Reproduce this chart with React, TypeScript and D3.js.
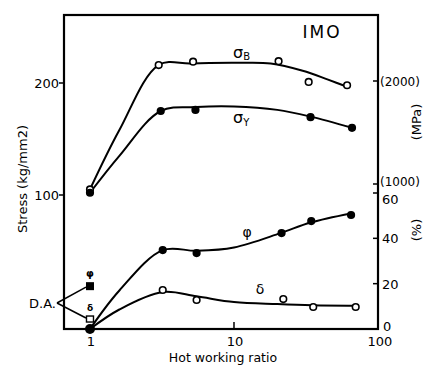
import React from "react";
import * as d3 from "d3";

const W = 425, H = 365;
const plot = { left: 64, right: 378, top: 15, bottom: 329 };

// measured points: hot working ratio -> value
const sigmaBRatio = [1, 3.0, 5.2, 20.4, 33, 61];
const sigmaBValues = [105, 216, 219, 219.5, 201, 198];
const sigmaYRatio = [1, 3.1, 5.4, 34, 66];
const sigmaYValues = [102, 175, 176, 169.5, 160];
const phiRatio = [1, 3.2, 5.5, 21.4, 34.4, 65];
const phiValues = [0, 34.8, 33.5, 42.3, 47.6, 50.3];
const deltaRatio = [3.2, 5.5, 22, 35.5, 70];
const deltaValues = [17.2, 12.8, 13.2, 9.7, 9.7];

// fitted curves as drawn in the figure
const sigmaBCurveRatio = [1, 1.6, 3, 5, 10, 18, 30, 45, 63];
const sigmaBCurveValues = [105, 158, 216, 217.5, 218, 217.5, 211, 203, 196];
const sigmaYCurveRatio = [1, 1.6, 3.1, 5.5, 10, 20, 34, 66];
const sigmaYCurveValues = [102, 135, 175, 178.5, 179, 176, 170, 160];
const phiCurveRatio = [1, 1.6, 3.2, 5.5, 10, 21, 34, 65];
const phiCurveValues = [0, 17, 34.8, 34.5, 36, 42.3, 47, 51];
const deltaCurveRatio = [1, 1.6, 3.2, 5.5, 10, 20, 35, 70];
const deltaCurveValues = [0, 8.6, 16.3, 14.4, 11.9, 11.0, 10.5, 10.3];

// D.A. (as received) values at ratio 1
const daPhi = 18.9;
const daDelta = 4.4;

const xTicks = [1, 10, 100];
const stressTicks = [100, 200];
const mpaTicks = [1000, 2000];
const pctTicks = [0, 20, 40, 60];

const font = "'DejaVu Sans', sans-serif";

export default function App() {
  const x = d3.scaleLog().domain([0.66, 100]).range([plot.left, plot.right]);
  const yS = d3.scaleLinear().domain([100, 200]).range([195, 83]);
  const yM = d3.scaleLinear().domain([1000, 2000]).range([184, 81]);
  const yP = d3.scaleLinear().domain([0, 60]).range([plot.bottom, 193]);

  const line = (rs: number[], vs: number[], y: d3.ScaleLinear<number, number>) =>
    d3.line<number>()
      .x((_, i) => x(rs[i]))
      .y((v) => y(v))
      .curve(d3.curveCatmullRom.alpha(0.5))(vs) || "";

  const dots = (rs: number[], vs: number[], y: any, filled: boolean, key: string, r = 3.3) =>
    vs.map((v, i) => (
      <circle key={key + i} cx={x(rs[i])} cy={y(v)} r={r}
        fill={filled ? "#000" : "#fff"} stroke="#000" strokeWidth={1.6} />
    ));

  const daX = x(1);
  const vertex = { x: 57, y: 303 };

  return (
    <svg width={W} height={H} style={{ position: "absolute", left: 0, top: 0, background: "#fff" }}
      fontFamily={font}>
      <rect x={plot.left} y={plot.top} width={plot.right - plot.left} height={plot.bottom - plot.top}
        fill="none" stroke="#000" strokeWidth={2.2} />

      {/* curves */}
      <g fill="none" stroke="#000" strokeWidth={2}>
        <path d={line(sigmaBCurveRatio, sigmaBCurveValues, yS)} />
        <path d={line(sigmaYCurveRatio, sigmaYCurveValues, yS)} />
        <path d={line(phiCurveRatio, phiCurveValues, yP)} />
        <path d={line(deltaCurveRatio, deltaCurveValues, yP)} />
      </g>

      {dots(sigmaBRatio, sigmaBValues, yS, false, "sb")}
      {dots(sigmaYRatio, sigmaYValues, yS, true, "sy")}
      {dots(phiRatio.slice(1), phiValues.slice(1), yP, true, "ph")}
      {dots(deltaRatio, deltaValues, yP, false, "de")}
      <circle cx={x(1)} cy={yP(0)} r={5} fill="#000" />

      {/* D.A. markers */}
      <rect x={daX - 4} y={yP(daPhi) - 4} width={8} height={8} fill="#000" />
      <rect x={daX - 3.5} y={yP(daDelta) - 3} width={7} height={6} fill="#fff" stroke="#000" strokeWidth={1.4} />
      <text x={daX} y={yP(daPhi) - 9} fontSize={10} textAnchor="middle" fontWeight="bold">φ</text>
      <text x={daX} y={yP(daDelta) - 8} fontSize={9} textAnchor="middle" fontWeight="bold">δ</text>
      <g stroke="#000" strokeWidth={1.5} fill="none">
        <line x1={vertex.x} y1={vertex.y} x2={daX - 4} y2={yP(daPhi) + 1} />
        <line x1={vertex.x} y1={vertex.y} x2={daX - 4} y2={yP(daDelta) - 1} />
      </g>
      <text x={vertex.x - 1} y={vertex.y + 5} fontSize={13} textAnchor="end">D.A.</text>

      {/* x axis */}
      {xTicks.map((t) => (
        <g key={"x" + t}>
          {t === 10 && <line x1={x(t)} x2={x(t)} y1={plot.bottom} y2={plot.bottom - 7} stroke="#000" strokeWidth={1.5} />}
          <text x={x(t) + (t === 100 ? 2 : 1)} y={346} fontSize={13} textAnchor="middle">{t}</text>
        </g>
      ))}
      <text x={223} y={362} fontSize={12.5} textAnchor="middle">Hot working ratio</text>

      {/* left axis */}
      {stressTicks.map((t) => (
        <g key={"s" + t}>
          <line x1={plot.left - 5} x2={plot.left} y1={yS(t)} y2={yS(t)} stroke="#000" strokeWidth={1.5} />
          <text x={plot.left - 5} y={yS(t) + 5} fontSize={13} textAnchor="end">{t}</text>
        </g>
      ))}
      <text transform={`translate(27,179) rotate(-90)`} fontSize={13} textAnchor="middle">Stress (kg/mm2)</text>

      {/* right axis */}
      {mpaTicks.map((t) => (
        <g key={"m" + t}>
          <line x1={plot.right - 5} x2={plot.right} y1={yM(t)} y2={yM(t)} stroke="#000" strokeWidth={1.5} />
          <text x={plot.right + 2} y={yM(t) + (t === 1000 ? 2 : 5)} fontSize={12} textAnchor="start">({t})</text>
        </g>
      ))}
      {pctTicks.map((t) => (
        <g key={"p" + t}>
          {t > 0 && <line x1={plot.right - 5} x2={plot.right} y1={yP(t)} y2={yP(t)} stroke="#000" strokeWidth={1.5} />}
          <text x={plot.right + (t === 0 ? 5 : 4)} y={yP(t) + (t === 60 ? 11 : t === 0 ? 2 : 5)} fontSize={13} textAnchor="start">{t}</text>
        </g>
      ))}
      <text transform={`translate(421,122) rotate(-90)`} fontSize={13} textAnchor="middle">(MPa)</text>
      <text transform={`translate(421,230) rotate(-90)`} fontSize={13} textAnchor="middle">(%)</text>

      {/* labels */}
      <text x={322} y={38} fontSize={17} textAnchor="middle" letterSpacing={2}>IMO</text>
      <text x={233} y={58} fontSize={16}>σ<tspan fontSize={10} dy={2}>B</tspan></text>
      <text x={233} y={123} fontSize={16}>σ<tspan fontSize={10} dy={3}>Y</tspan></text>
      <text x={247} y={237} fontSize={14} textAnchor="middle">φ</text>
      <text x={260} y={294} fontSize={14} textAnchor="middle">δ</text>
    </svg>
  );
}
